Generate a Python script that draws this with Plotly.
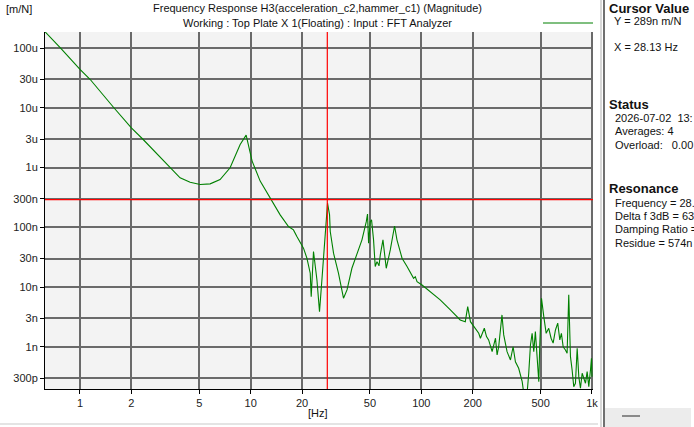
#!/usr/bin/env python3
"""
FRF magnitude plot - H3(acceleration_c2, hammer_c1), Top Plate X 1 (Floating).
Writes out.html
"""

import plotly.graph_objects as go

W, H = 694, 427

# Frequency response
freq_hz = [
    0.624, 0.77, 1.0, 1.145, 1.58, 2.0, 2.33, 3.37, 3.86, 4.42, 5.06, 5.79,
    6.62, 7.58, 8.68, 9.41, 10.2, 11.37, 13.0, 13.92, 14.89, 16.66, 17.82,
    18.66, 20.4, 21.36, 22.34, 22.64, 23.35, 24.45, 25.32, 26.16, 27.35,
    28.21, 29.0, 29.27, 30.6, 32.7, 35.0, 36.7, 39.2, 42.0, 44.9, 47.6, 48.4,
    49.1, 50.2, 51.1, 52.5, 53.7, 55.0, 56.5, 57.5, 59.6, 62.3, 65.8, 69.7,
    72.0, 77.1, 82.5, 90.1, 92.2, 94.4, 101, 113, 129, 148, 169, 181, 187,
    194, 203, 217, 222, 234, 241, 248, 260, 272, 278, 284, 297, 304, 318,
    333, 345, 356, 372, 390, 398, 417, 426, 436, 446, 456, 466, 477, 488,
    494, 506, 522, 539, 558, 576, 592, 611, 630, 648, 662, 678, 699, 715,
    731, 748, 765, 782, 800, 819, 837, 856, 876, 895, 916, 937, 958, 980,
    993, 1000,
]
mag_nm_per_n = [
    187000, 100000, 43900, 30000, 10000, 4620, 3000, 1000, 672, 565, 519, 533,
    629, 989, 2430, 3490, 1280, 592, 311, 222, 161, 103, 90.4,
    69.8, 44.7, 30.4, 17.0, 6.9, 39.2, 13.2, 3.87, 13.2, 90.4,
    253, 161, 84.7, 36.8, 17.0, 6.49, 8.94, 20.6, 34.5, 61.5, 124, 166,
    54.2, 124, 133, 61.5, 22.0, 26.6, 22.6, 34.5, 61.5, 20.6, 41.8, 105,
    61.5, 30.4, 22.0, 14.0, 14.9, 12.3, 10.8, 8.37, 6.08, 4.13, 2.81, 2.63, 4.70,
    2.63, 2.17, 1.68, 1.39, 2.04, 1.48, 1.30, 0.828, 1.39, 0.729, 1.0, 3.41, 1.58, 0.828,
    0.601, 1.0, 0.562, 0.436, 0.260, 0.17, 0.17, 0.360, 1.07, 1.68, 0.828, 1.79, 0.641, 0.260,
    1.0, 6.49, 3.19, 1.68, 2.04, 1.39, 1.15, 1.91, 2.48, 1.30, 1.68, 1.0, 0.883, 0.778,
    7.38, 0.683, 0.409, 0.215, 0.245, 0.944, 0.316, 0.202, 0.360, 0.297, 0.245, 0.383, 0.215, 0.409,
    0.641, 0.316,
]
mag = [v * 1e-9 for v in mag_nm_per_n]

x_ticks = [1, 2, 5, 10, 20, 50, 100, 200, 500, 1000]
x_tick_text = ["1", "2", "5", "10", "20", "50", "100", "200", "500", "1k"]
y_ticks = [100e-6, 30e-6, 10e-6, 3e-6, 1e-6, 300e-9, 100e-9, 30e-9, 10e-9,
           3e-9, 1e-9, 300e-12]
y_tick_text = ["100u", "30u", "10u", "3u", "1u", "300n", "100n", "30n", "10n",
               "3n", "1n", "300p"]

cursor_x = 28.13
cursor_y = 289e-9

title_lines = [
    "Frequency Response H3(acceleration_c2,hammer_c1) (Magnitude)",
    "Working : Top Plate X 1(Floating) : Input : FFT Analyzer",
]

# right-hand info panel: (text, bold, left px, centre y px)
panel_lines = [
    ("Cursor Value", True, 607, 8),
    ("Y = 289n m/N", False, 612, 21),
    ("X = 28.13 Hz", False, 612, 47),
    ("Status", True, 607, 104),
    ("2026-07-02  13:", False, 613, 118),
    ("Averages: 4", False, 613, 131),
    ("Overload:   0.00", False, 613, 145),
    ("Resonance", True, 607, 188),
    ("Frequency = 28.", False, 613, 203),
    ("Delta f 3dB = 63", False, 613, 216),
    ("Damping Ratio =", False, 613, 229),
    ("Residue = 574n", False, 613, 243),
]

FONT = "Liberation Sans"
GRID = "#6a6a6a"


def px(x):
    return x / W


def py(y):
    return 1 - y / H


fig = go.Figure()

fig.add_trace(go.Scatter(
    x=freq_hz, y=mag, mode="lines",
    line=dict(color="#008000", width=1.1),
    hoverinfo="skip", showlegend=False,
))

axis_style = dict(
    type="log",
    showgrid=True, gridcolor=GRID, gridwidth=1.5,
    showline=True, linecolor="black", linewidth=1,
    ticks="outside", ticklen=4, tickcolor="black",
    tickfont=dict(family=FONT, size=11, color="#222"),
    zeroline=False, automargin=False,
)
fig.update_xaxes(range=[-0.205, 3.006], domain=[px(45), px(593)],
                 tickvals=x_ticks, ticktext=x_tick_text, **axis_style)
fig.update_yaxes(range=[-9.707, -3.732], domain=[py(389), py(32)],
                 tickvals=y_ticks, ticktext=y_tick_text, **axis_style)

shapes = [
    # cursor cross-hair
    dict(type="line", xref="x", yref="paper", x0=cursor_x, x1=cursor_x,
         y0=py(389), y1=py(32), line=dict(color="#ff0000", width=1.2)),
    dict(type="line", xref="paper", yref="y", x0=px(45), x1=px(593),
         y0=cursor_y, y1=cursor_y, line=dict(color="#ff0000", width=1.2)),
    # legend sample
    dict(type="line", xref="paper", yref="paper", x0=px(543), x1=px(593),
         y0=py(23), y1=py(23), line=dict(color="#008000", width=1.2)),
    # panel divider
    dict(type="line", xref="paper", yref="paper", x0=px(601), x1=px(601),
         y0=0, y1=1, line=dict(color="#d8d8d8", width=2)),
    dict(type="line", xref="paper", yref="paper", x0=px(604), x1=px(604),
         y0=0, y1=1, line=dict(color="#707070", width=2)),
    # bottom status strip of the panel
    dict(type="rect", xref="paper", yref="paper", x0=px(605), x1=px(691),
         y0=0, y1=py(408), fillcolor="#ececec", line=dict(width=0),
         layer="below"),
    dict(type="line", xref="paper", yref="paper", x0=px(622), x1=px(640),
         y0=py(416), y1=py(416), line=dict(color="#8a8a8a", width=2)),
    dict(type="line", xref="paper", yref="paper", x0=0, x1=px(598),
         y0=py(424), y1=py(424), line=dict(color="#e4e4e4", width=2)),
]

annotations = [
    dict(text="[m/N]", x=px(4), y=py(9), xanchor="left", yanchor="middle",
         font=dict(size=11)),
    dict(text="[Hz]", x=px(318), y=py(413), xanchor="center",
         yanchor="middle", font=dict(size=11)),
]
for i, line in enumerate(title_lines):
    annotations.append(dict(text=line, x=px(317), y=py(8 + 15 * i),
                            xanchor="center", yanchor="middle",
                            font=dict(size=11)))
for text, bold, lx, ly in panel_lines:
    annotations.append(dict(
        text=f"<b>{text}</b>" if bold else text,
        x=px(lx), y=py(ly), xanchor="left", yanchor="middle",
        font=dict(size=13 if bold else 11),
    ))
for a in annotations:
    a.update(xref="paper", yref="paper", showarrow=False)
    a["font"].update(family=FONT, color="#111")

fig.update_layout(
    width=W, height=H,
    margin=dict(l=0, r=0, t=0, b=0),
    paper_bgcolor="white",
    plot_bgcolor="#f3f3f3",
    shapes=shapes,
    annotations=annotations,
    showlegend=False,
)

# page body has a default 8px margin - drop it so the figure sits at 0,0
fig.write_html(
    "out.html",
    config={"displayModeBar": False},
    post_script="document.body.style.margin='0';",
)
